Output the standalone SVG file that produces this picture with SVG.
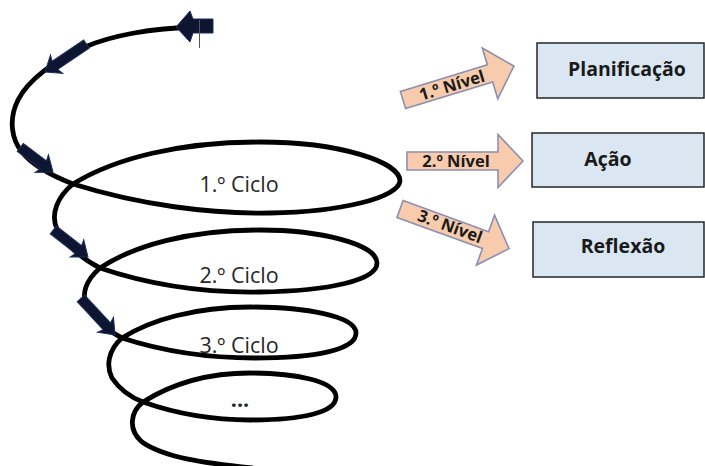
<svg xmlns="http://www.w3.org/2000/svg" width="705" height="466" viewBox="0 0 705 466">
  <style>
    .spiral { fill: none; stroke: #000; stroke-width: 4.8; stroke-linecap: round; stroke-linejoin: round; }
    .sp-arrow { fill: #0d1530; stroke: #1f2f5f; stroke-width: 1; }
    .level { fill: #f8cbad; stroke: #8a8fb2; stroke-width: 1.6; stroke-linejoin: miter; }
    .level-text { font-family: "Open Sans", "Liberation Sans", sans-serif; font-weight: bold; font-size: 16.5px; fill: #1a1a1a; text-anchor: middle; }
    .box { fill: #dae6f1; stroke: #262626; stroke-width: 1.5; }
    .box-text { font-family: "Open Sans", "Liberation Sans", sans-serif; font-weight: bold; font-size: 19.5px; fill: #1a1a1a; text-anchor: middle; }
    .cycle-text { font-family: "Open Sans", "Liberation Sans", sans-serif; font-size: 21.5px; fill: #262626; text-anchor: middle; }
  </style>
  <defs>
    <!-- block arrow pointing right, base at origin -->
    <path id="level-arrow" d="M0,-9 L91,-9 L91,-26.5 L116,0 L91,26.5 L91,9 L0,9 Z"/>
  </defs>

  <rect width="705" height="466" fill="#fff"/>

  <!-- spiral of cycles -->
  <g id="connectors">
    <path id="spiral" class="spiral" d="M 197,27
      C 150,28 110,36 85,47
      C 55,60 28,80 18,100
      C 8,120 12,140 22,152
      C 32,165 50,175 73,184
      C 140,205 210,214 270,213
      C 340,212 398,198 400,181
      C 400,162 340,142 260,142
      C 180,142 115,158 73,184
      C 58,196 50,214 57,229
      C 64,243 82,259 100,268
      C 150,285 200,293 260,292
      C 330,291 377,280 377,263
      C 377,244 320,230 260,230
      C 190,230 135,245 100,268
      C 86,280 80,295 88,308
      C 97,322 110,332 122,338
      C 165,352 210,358 255,358
      C 315,358 356,350 356,333
      C 356,316 305,307 250,307
      C 195,307 150,320 122,338
      C 108,350 106,366 112,378
      C 120,390 130,397 143,402
      C 180,415 215,420 250,420
      C 300,420 336,413 336,397
      C 336,381 295,373 250,373
      C 205,373 170,385 143,402
      C 130,412 128,430 142,442
      C 165,458 205,463 252,468"/>

    <!-- start of the spiral -->
    <path class="sp-arrow" d="M176,27 L190,11 L193,19 L213,19 L213,33 L193,33 L190,42 Z" fill="#000"/>
    <line x1="199.5" y1="20" x2="199.5" y2="48" stroke="#555" stroke-width="1"/>

    <!-- direction arrows along the spiral (tip at origin, pointing +x) -->
    <path class="sp-arrow" transform="translate(45,72) rotate(146)" d="M0,0 L-14,-11 L-12,-5 L-50,-5 L-50,5 L-12,5 L-14,11 Z"/>
    <path class="sp-arrow" transform="translate(53,172) rotate(37)" d="M0,0 L-14,-11 L-12,-5 L-41,-5 L-41,5 L-12,5 L-14,11 Z"/>
    <path class="sp-arrow" transform="translate(88,257) rotate(38)" d="M0,0 L-14,-11 L-12,-5 L-44,-5 L-44,5 L-12,5 L-14,11 Z"/>
    <path class="sp-arrow" transform="translate(115,335) rotate(47)" d="M0,0 L-14,-11 L-12,-5 L-50,-5 L-50,5 L-12,5 L-14,11 Z"/>
  </g>

  <g id="cycle-1"><text class="cycle-text" x="239" y="192">1.º Ciclo</text></g>
  <g id="cycle-2"><text class="cycle-text" x="239" y="283">2.º Ciclo</text></g>
  <g id="cycle-3"><text class="cycle-text" x="239" y="353">3.º Ciclo</text></g>
  <g id="cycle-more"><text class="cycle-text" x="240" y="407" font-weight="bold">...</text></g>

  <!-- level arrows -->
  <g id="level-1" transform="translate(403,100) rotate(-17)">
    <use href="#level-arrow" class="level"/>
    <text class="level-text" x="51" y="6">1.º Nível</text>
  </g>
  <g id="level-2" transform="translate(407,161)">
    <use href="#level-arrow" class="level"/>
    <text class="level-text" x="49" y="6">2.º Nível</text>
  </g>
  <g id="level-3" transform="translate(400,209) rotate(20)">
    <use href="#level-arrow" class="level"/>
    <text class="level-text" x="53" y="5">3.º Nível</text>
  </g>

  <!-- stages -->
  <g id="planificacao">
    <rect class="box" x="537" y="43" width="167" height="55"/>
    <text class="box-text" x="627" y="76">Planificação</text>
  </g>
  <g id="acao">
    <rect class="box" x="532" y="133" width="172" height="54"/>
    <text class="box-text" x="608" y="166">Ação</text>
  </g>
  <g id="reflexao">
    <rect class="box" x="533" y="222" width="171" height="55"/>
    <text class="box-text" x="623" y="253">Reflexão</text>
  </g>
</svg>
